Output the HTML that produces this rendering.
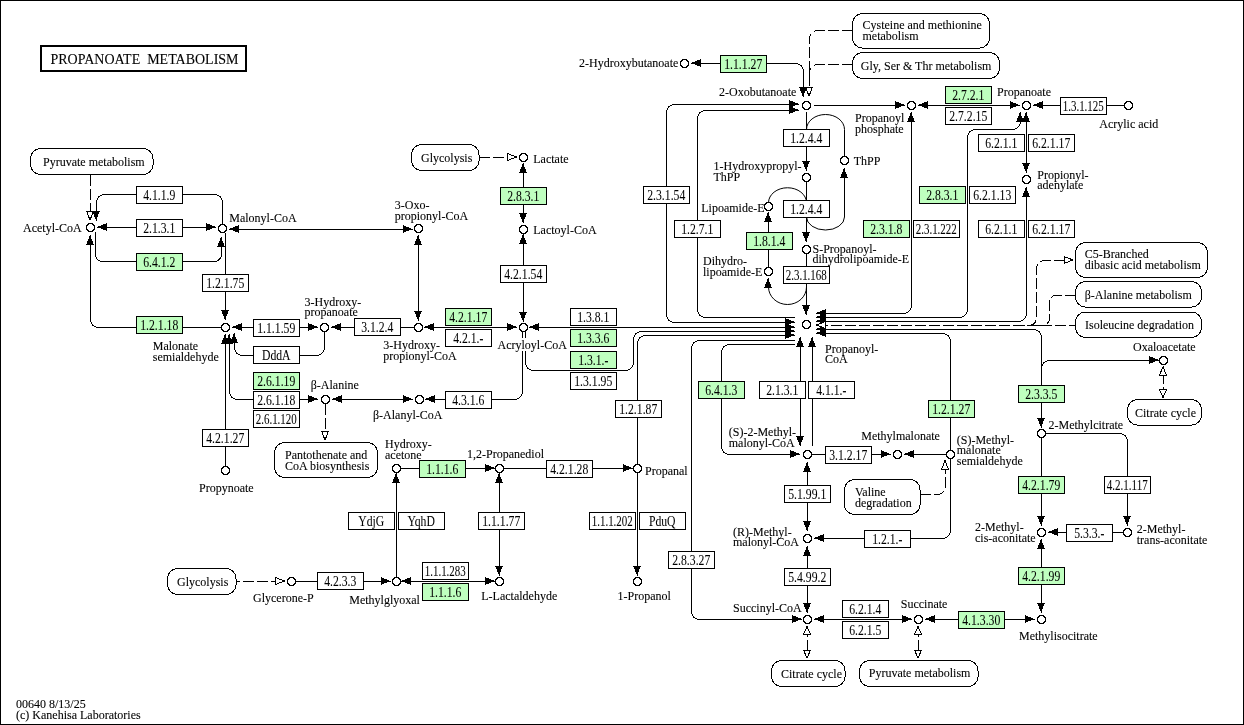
<!DOCTYPE html>
<html><head><meta charset="utf-8"><style>
html,body{margin:0;padding:0;background:#fff;width:1244px;height:725px;overflow:hidden}
svg{display:block;will-change:transform}
text{font-family:"Liberation Serif", serif;fill:#000;stroke:#000;stroke-width:0.1px}
text.b{stroke-width:0.05px}
</style></head><body>
<svg width="1244" height="725" viewBox="0 0 1244 725" shape-rendering="crispEdges">
<defs><g id="cc"><path d="M3 1h3v1h-3zM2 2h5v1h-5zM1 3h7v1h-7zM1 4h7v1h-7zM1 5h7v1h-7zM2 6h5v1h-5zM3 7h3v1h-3z" fill="#fff"/><path d="M2 0h5v1h-5zM1 1h2v1h-2zM6 1h2v1h-2zM0 2h2v1h-2zM7 2h2v1h-2zM0 3h1v1h-1zM8 3h1v1h-1zM0 4h1v1h-1zM8 4h1v1h-1zM0 5h1v1h-1zM8 5h1v1h-1zM0 6h2v1h-2zM7 6h2v1h-2zM1 7h2v1h-2zM6 7h2v1h-2zM2 8h5v1h-5z" fill="#000"/></g></defs>
<rect x="0.5" y="0.5" width="1243" height="724" fill="#fff" stroke="#000" stroke-width="1"/>
<rect x="41" y="46" width="205" height="25" fill="#fff" stroke="#000" stroke-width="2"/>
<text transform="matrix(0.9333 0 0 1 50.5 64)" font-size="15" xml:space="preserve" style="white-space:pre">PROPANOATE  METABOLISM</text>
<rect x="30.5" y="148.5" width="122.5" height="26" rx="10" ry="10" fill="#fff" stroke="#000" stroke-width="1"/>
<text transform="matrix(0.89 0 0 1 43 166)" font-size="13.5">Pyruvate metabolism</text>
<rect x="411.5" y="144.5" width="67.5" height="26" rx="10" ry="10" fill="#fff" stroke="#000" stroke-width="1"/>
<text transform="matrix(0.89 0 0 1 421 161.75)" font-size="13.5">Glycolysis</text>
<rect x="167.5" y="568.5" width="68.5" height="26" rx="10" ry="10" fill="#fff" stroke="#000" stroke-width="1"/>
<text transform="matrix(0.89 0 0 1 177 586.25)" font-size="13.5">Glycolysis</text>
<rect x="274.5" y="442.5" width="103" height="35" rx="10" ry="10" fill="#fff" stroke="#000" stroke-width="1"/>
<text transform="matrix(0.89 0 0 1 285 458.75)" font-size="13.5">Pantothenate and</text>
<text transform="matrix(0.89 0 0 1 285 469.5)" font-size="13.5">CoA biosynthesis</text>
<rect x="852.5" y="13.5" width="137" height="34.5" rx="10" ry="10" fill="#fff" stroke="#000" stroke-width="1"/>
<text transform="matrix(0.89 0 0 1 862.5 29.25)" font-size="13.5">Cysteine and methionine</text>
<text transform="matrix(0.89 0 0 1 862.5 40)" font-size="13.5">metabolism</text>
<rect x="852.5" y="52.5" width="147" height="26" rx="10" ry="10" fill="#fff" stroke="#000" stroke-width="1"/>
<text transform="matrix(0.89 0 0 1 860.75 69.5)" font-size="13.5">Gly, Ser &amp; Thr metabolism</text>
<rect x="1075.5" y="242.5" width="132" height="35" rx="10" ry="10" fill="#fff" stroke="#000" stroke-width="1"/>
<text transform="matrix(0.89 0 0 1 1084.75 258.25)" font-size="13.5">C5-Branched</text>
<text transform="matrix(0.89 0 0 1 1084.75 269)" font-size="13.5">dibasic acid metabolism</text>
<rect x="1075.5" y="281.5" width="126" height="25.5" rx="10" ry="10" fill="#fff" stroke="#000" stroke-width="1"/>
<text transform="matrix(0.89 0 0 1 1084.75 298.75)" font-size="13.5">β-Alanine metabolism</text>
<rect x="1075.5" y="312" width="126" height="25.5" rx="10" ry="10" fill="#fff" stroke="#000" stroke-width="1"/>
<text transform="matrix(0.89 0 0 1 1085 328.75)" font-size="13.5">Isoleucine degradation</text>
<rect x="1127.5" y="399.5" width="74" height="25.5" rx="10" ry="10" fill="#fff" stroke="#000" stroke-width="1"/>
<text transform="matrix(0.89 0 0 1 1135 417)" font-size="13.5">Citrate cycle</text>
<rect x="844.5" y="479.5" width="75.5" height="35" rx="10" ry="10" fill="#fff" stroke="#000" stroke-width="1"/>
<text transform="matrix(0.89 0 0 1 855 496)" font-size="13.5">Valine</text>
<text transform="matrix(0.89 0 0 1 855 507)" font-size="13.5">degradation</text>
<rect x="771.5" y="660.5" width="73.5" height="26" rx="10" ry="10" fill="#fff" stroke="#000" stroke-width="1"/>
<text transform="matrix(0.89 0 0 1 781 677.75)" font-size="13.5">Citrate cycle</text>
<rect x="859.5" y="660.5" width="118.5" height="26" rx="10" ry="10" fill="#fff" stroke="#000" stroke-width="1"/>
<text transform="matrix(0.89 0 0 1 868.75 677)" font-size="13.5">Pyruvate metabolism</text>
<path d="M90.5 174.5 L90.5 212" fill="none" stroke="#000" stroke-width="1" stroke-dasharray="11 3"/>
<polygon points="90,220 86.5,211 93.5,211" fill="#fff" stroke="#000" stroke-width="1"/>
<path d="M222.5 224.5 L222.5 202.5 A8 8 0 0 0 214.5 194.5 L104.5 194.5 A8 8 0 0 0 96.5 202.5 L96.5 212" fill="none" stroke="#000" stroke-width="1"/>
<polygon points="96,220.5 92,210.5 100,210.5" fill="#000"/>
<path d="M96.5 210.5L96.5 220.5" stroke="#000" stroke-width="1"/>
<path d="M100 227.5 L214 227.5" fill="none" stroke="#000" stroke-width="1"/>
<polygon points="97,227 107,223 107,231" fill="#000"/>
<path d="M107 227.5L97 227.5" stroke="#000" stroke-width="1"/>
<polygon points="216,227 206,231 206,223" fill="#000"/>
<path d="M206 227.5L216 227.5" stroke="#000" stroke-width="1"/>
<path d="M95.5 232 L95.5 254.5 A7 7 0 0 0 102.5 261.5 L214.5 261.5 A7 7 0 0 0 221.5 254.5 L221.5 242" fill="none" stroke="#000" stroke-width="1"/>
<polygon points="221,237 225,247 217,247" fill="#000"/>
<path d="M221.5 247L221.5 237" stroke="#000" stroke-width="1"/>
<path d="M221.5 327.5 L98.5 327.5 A8 8 0 0 1 90.5 319.5 L90.5 243" fill="none" stroke="#000" stroke-width="1"/>
<polygon points="90,235 94,245 86,245" fill="#000"/>
<path d="M90.5 245L90.5 235" stroke="#000" stroke-width="1"/>
<path d="M225.5 232.5 L225.5 312" fill="none" stroke="#000" stroke-width="1"/>
<polygon points="225,320 221,310 229,310" fill="#000"/>
<path d="M225.5 310L225.5 320" stroke="#000" stroke-width="1"/>
<path d="M238 327.5 L312 327.5" fill="none" stroke="#000" stroke-width="1"/>
<polygon points="232,327 242,323 242,331" fill="#000"/>
<path d="M242 327.5L232 327.5" stroke="#000" stroke-width="1"/>
<polygon points="318,327 308,331 308,323" fill="#000"/>
<path d="M308 327.5L318 327.5" stroke="#000" stroke-width="1"/>
<path d="M336 327.5 L414.5 327.5" fill="none" stroke="#000" stroke-width="1"/>
<polygon points="331,327 341,323 341,331" fill="#000"/>
<path d="M341 327.5L331 327.5" stroke="#000" stroke-width="1"/>
<path d="M430 327.5 L512 327.5" fill="none" stroke="#000" stroke-width="1"/>
<polygon points="424,327 434,323 434,331" fill="#000"/>
<path d="M434 327.5L424 327.5" stroke="#000" stroke-width="1"/>
<polygon points="517,327 507,331 507,323" fill="#000"/>
<path d="M507 327.5L517 327.5" stroke="#000" stroke-width="1"/>
<path d="M418.5 241 L418.5 314" fill="none" stroke="#000" stroke-width="1"/>
<polygon points="418,235 422,245 414,245" fill="#000"/>
<path d="M418.5 245L418.5 235" stroke="#000" stroke-width="1"/>
<polygon points="418,320.5 414,310.5 422,310.5" fill="#000"/>
<path d="M418.5 310.5L418.5 320.5" stroke="#000" stroke-width="1"/>
<path d="M235 229.5 L406 229.5" fill="none" stroke="#000" stroke-width="1"/>
<polygon points="229,229 239,225 239,233" fill="#000"/>
<path d="M239 229.5L229 229.5" stroke="#000" stroke-width="1"/>
<polygon points="412.5,229 402.5,233 402.5,225" fill="#000"/>
<path d="M402.5 229.5L412.5 229.5" stroke="#000" stroke-width="1"/>
<path d="M324.5 331.5 L324.5 347.5 A8 8 0 0 1 316.5 355.5 L242.5 355.5 A8 8 0 0 1 234.5 347.5 L234.5 340" fill="none" stroke="#000" stroke-width="1"/>
<path d="M312 399.5 L237.5 399.5 A8 8 0 0 1 229.5 391.5 L229.5 340" fill="none" stroke="#000" stroke-width="1"/>
<path d="M225.5 466.5 L225.5 340" fill="none" stroke="#000" stroke-width="1"/>
<polygon points="225,334 229,344 221,344" fill="#000"/>
<path d="M225.5 344L225.5 334" stroke="#000" stroke-width="1"/>
<polygon points="229,334 233,344 225,344" fill="#000"/>
<path d="M229.5 344L229.5 334" stroke="#000" stroke-width="1"/>
<polygon points="234,333 238,343 230,343" fill="#000"/>
<path d="M234.5 343L234.5 333" stroke="#000" stroke-width="1"/>
<path d="M338 399.5 L407 399.5" fill="none" stroke="#000" stroke-width="1"/>
<polygon points="332,399 342,395 342,403" fill="#000"/>
<path d="M342 399.5L332 399.5" stroke="#000" stroke-width="1"/>
<polygon points="412.5,399 402.5,403 402.5,395" fill="#000"/>
<path d="M402.5 399.5L412.5 399.5" stroke="#000" stroke-width="1"/>
<polygon points="318,399 308,403 308,395" fill="#000"/>
<path d="M308 399.5L318 399.5" stroke="#000" stroke-width="1"/>
<path d="M432 399.5 L514.5 399.5 A8 8 0 0 0 522.5 391.5 L522.5 331.5" fill="none" stroke="#000" stroke-width="1"/>
<polygon points="425,399 435,395 435,403" fill="#000"/>
<path d="M435 399.5L425 399.5" stroke="#000" stroke-width="1"/>
<path d="M325.5 403.5 L325.5 432" fill="none" stroke="#000" stroke-width="1" stroke-dasharray="11 3"/>
<polygon points="325,440 321.5,431 328.5,431" fill="#fff" stroke="#000" stroke-width="1"/>
<path d="M479 157.5 L507 157.5" fill="none" stroke="#000" stroke-width="1" stroke-dasharray="11 3"/>
<polygon points="516.5,157 507.5,160.5 507.5,153.5" fill="#fff" stroke="#000" stroke-width="1"/>
<path d="M523.5 170 L523.5 215" fill="none" stroke="#000" stroke-width="1"/>
<polygon points="523,163 527,173 519,173" fill="#000"/>
<path d="M523.5 173L523.5 163" stroke="#000" stroke-width="1"/>
<polygon points="523,223 519,213 527,213" fill="#000"/>
<path d="M523.5 213L523.5 223" stroke="#000" stroke-width="1"/>
<path d="M523.5 241 L523.5 314" fill="none" stroke="#000" stroke-width="1"/>
<polygon points="523,234 527,244 519,244" fill="#000"/>
<path d="M523.5 244L523.5 234" stroke="#000" stroke-width="1"/>
<polygon points="523,321.5 519,311.5 527,311.5" fill="#000"/>
<path d="M523.5 311.5L523.5 321.5" stroke="#000" stroke-width="1"/>
<path d="M535 327.5 L790 327.5" fill="none" stroke="#000" stroke-width="1"/>
<polygon points="529,327 539,323 539,331" fill="#000"/>
<path d="M539 327.5L529 327.5" stroke="#000" stroke-width="1"/>
<path d="M525.5 331.5 L525.5 362.5 A8 8 0 0 0 533.5 370.5 L625.5 370.5 A8 8 0 0 0 633.5 362.5 L633.5 339.5 A8 8 0 0 1 641.5 331.5 L790 331.5" fill="none" stroke="#000" stroke-width="1"/>
<path d="M637.5 464.5 L637.5 343.5 A8 8 0 0 1 645.5 335.5 L790 335.5" fill="none" stroke="#000" stroke-width="1"/>
<path d="M792 104.5 L674.5 104.5 A8 8 0 0 0 666.5 112.5 L666.5 314.5 A8 8 0 0 0 674.5 322.5 L790 322.5" fill="none" stroke="#000" stroke-width="1"/>
<polygon points="799,104 789,108 789,100" fill="#000"/>
<path d="M789 104.5L799 104.5" stroke="#000" stroke-width="1"/>
<path d="M792 110.5 L705.5 110.5 A8 8 0 0 0 697.5 118.5 L697.5 309.5 A8 8 0 0 0 705.5 317.5 L795 317.5" fill="none" stroke="#000" stroke-width="1"/>
<polygon points="799,110 789,114 789,106" fill="#000"/>
<path d="M789 110.5L799 110.5" stroke="#000" stroke-width="1"/>
<polygon points="795,322 785,326 785,318" fill="#000"/>
<path d="M785 322.5L795 322.5" stroke="#000" stroke-width="1"/>
<polygon points="795,327 785,331 785,323" fill="#000"/>
<path d="M785 327.5L795 327.5" stroke="#000" stroke-width="1"/>
<polygon points="795,331 785,335 785,327" fill="#000"/>
<path d="M785 331.5L795 331.5" stroke="#000" stroke-width="1"/>
<polygon points="795,335 785,339 785,331" fill="#000"/>
<path d="M785 335.5L795 335.5" stroke="#000" stroke-width="1"/>
<path d="M795 619.5 L699.5 619.5 A8 8 0 0 1 691.5 611.5 L691.5 348.5 A8 8 0 0 1 699.5 340.5 L795 340.5" fill="none" stroke="#000" stroke-width="1"/>
<polygon points="802,619 792,623 792,615" fill="#000"/>
<path d="M792 619.5L802 619.5" stroke="#000" stroke-width="1"/>
<path d="M795 454.5 L729.5 454.5 A8 8 0 0 1 721.5 446.5 L721.5 352.5 A8 8 0 0 1 729.5 344.5 L795 344.5" fill="none" stroke="#000" stroke-width="1"/>
<polygon points="800,454 790,458 790,450" fill="#000"/>
<path d="M790 454.5L800 454.5" stroke="#000" stroke-width="1"/>
<path d="M800.5 344 L800.5 440" fill="none" stroke="#000" stroke-width="1"/>
<polygon points="800,337 804,347 796,347" fill="#000"/>
<path d="M800.5 347L800.5 337" stroke="#000" stroke-width="1"/>
<polygon points="800,446 796,436 804,436" fill="#000"/>
<path d="M800.5 436L800.5 446" stroke="#000" stroke-width="1"/>
<path d="M812.5 446 L812.5 344" fill="none" stroke="#000" stroke-width="1"/>
<polygon points="812,337 816,347 808,347" fill="#000"/>
<path d="M812.5 347L812.5 337" stroke="#000" stroke-width="1"/>
<path d="M806.5 253.5 L806.5 307" fill="none" stroke="#000" stroke-width="1"/>
<polygon points="806,315 802,305 810,305" fill="#000"/>
<path d="M806.5 305L806.5 315" stroke="#000" stroke-width="1"/>
<path d="M806.5 287 A19 17.5 0 0 1 768.5 287" fill="none" stroke="#000" stroke-width="1" shape-rendering="geometricPrecision"/>
<polygon points="768,278 772,288 764,288" fill="#000"/>
<path d="M768.5 288L768.5 278" stroke="#000" stroke-width="1"/>
<path d="M768.5 267.5 L768.5 219" fill="none" stroke="#000" stroke-width="1"/>
<polygon points="768,212 772,222 764,222" fill="#000"/>
<path d="M768.5 222L768.5 212" stroke="#000" stroke-width="1"/>
<path d="M806.5 112 L806.5 164" fill="none" stroke="#000" stroke-width="1"/>
<polygon points="806,170.5 802,160.5 810,160.5" fill="#000"/>
<path d="M806.5 160.5L806.5 170.5" stroke="#000" stroke-width="1"/>
<path d="M806.5 129.5 A19 15 0 0 1 844.5 129.5 L844.5 156.75" fill="none" stroke="#000" stroke-width="1" shape-rendering="geometricPrecision"/>
<path d="M806.5 181.25 L806.5 235" fill="none" stroke="#000" stroke-width="1"/>
<polygon points="806,242 802,232 810,232" fill="#000"/>
<path d="M806.5 232L806.5 242" stroke="#000" stroke-width="1"/>
<path d="M768.5 202.75 A19 15 0 0 1 806.5 202.75" fill="none" stroke="#000" stroke-width="1" shape-rendering="geometricPrecision"/>
<path d="M806.5 217 A19 13 0 0 0 844.5 217 L844.5 174" fill="none" stroke="#000" stroke-width="1" shape-rendering="geometricPrecision"/>
<polygon points="844,168 848,178 840,178" fill="#000"/>
<path d="M844.5 178L844.5 168" stroke="#000" stroke-width="1"/>
<path d="M814 105.5 L898 105.5" fill="none" stroke="#000" stroke-width="1"/>
<polygon points="905,105 895,109 895,101" fill="#000"/>
<path d="M895 105.5L905 105.5" stroke="#000" stroke-width="1"/>
<path d="M924 105.5 L1013 105.5" fill="none" stroke="#000" stroke-width="1"/>
<polygon points="918,105 928,101 928,109" fill="#000"/>
<path d="M928 105.5L918 105.5" stroke="#000" stroke-width="1"/>
<polygon points="1019.5,105 1009.5,109 1009.5,101" fill="#000"/>
<path d="M1009.5 105.5L1019.5 105.5" stroke="#000" stroke-width="1"/>
<path d="M1124.75 105.5 L1040 105.5" fill="none" stroke="#000" stroke-width="1"/>
<polygon points="1033,105 1043,101 1043,109" fill="#000"/>
<path d="M1043 105.5L1033 105.5" stroke="#000" stroke-width="1"/>
<path d="M823 313.5 L903.5 313.5 A8 8 0 0 0 911.5 305.5 L911.5 118" fill="none" stroke="#000" stroke-width="1"/>
<polygon points="911,112 915,122 907,122" fill="#000"/>
<path d="M911.5 122L911.5 112" stroke="#000" stroke-width="1"/>
<path d="M823 317.5 L959.5 317.5 A8 8 0 0 0 967.5 309.5 L967.5 137.5 A8 8 0 0 1 975.5 129.5 L1012.5 129.5 A8 8 0 0 0 1020.5 121.5 L1020.5 118" fill="none" stroke="#000" stroke-width="1"/>
<polygon points="1020,112 1024,122 1016,122" fill="#000"/>
<path d="M1020.5 122L1020.5 112" stroke="#000" stroke-width="1"/>
<path d="M1026.5 118 L1026.5 166" fill="none" stroke="#000" stroke-width="1"/>
<polygon points="1026,112 1030,122 1022,122" fill="#000"/>
<path d="M1026.5 122L1026.5 112" stroke="#000" stroke-width="1"/>
<polygon points="1026,172.5 1022,162.5 1030,162.5" fill="#000"/>
<path d="M1026.5 162.5L1026.5 172.5" stroke="#000" stroke-width="1"/>
<path d="M1026.5 193 L1026.5 313.5 A8 8 0 0 1 1018.5 321.5 L823 321.5" fill="none" stroke="#000" stroke-width="1"/>
<polygon points="1026,187 1030,197 1022,197" fill="#000"/>
<path d="M1026.5 197L1026.5 187" stroke="#000" stroke-width="1"/>
<path d="M817 325.5 L1075.5 325.5" fill="none" stroke="#000" stroke-width="1" stroke-dasharray="11 3"/>
<path d="M1065 260.5 L1044.5 260.5 A8 8 0 0 0 1036.5 268.5 L1036.5 317.5 A8 8 0 0 1 1028.5 325.5 L1020 325.5" fill="none" stroke="#000" stroke-width="1" stroke-dasharray="11 3"/>
<polygon points="1073,260 1064,263.5 1064,256.5" fill="#fff" stroke="#000" stroke-width="1"/>
<path d="M1075.5 295 L1056.5 295 A7 7 0 0 0 1049.5 302 L1049.5 318.5 A7 7 0 0 1 1042.5 325.5 L1032 325.5" fill="none" stroke="#000" stroke-width="1" stroke-dasharray="11 3"/>
<path d="M823 329.5 L1033.5 329.5 A8 8 0 0 1 1041.5 337.5 L1041.5 421" fill="none" stroke="#000" stroke-width="1"/>
<polygon points="1041,427.5 1037,417.5 1045,417.5" fill="#000"/>
<path d="M1041.5 417.5L1041.5 427.5" stroke="#000" stroke-width="1"/>
<path d="M1041.5 376 L1041.5 368.5 A8 8 0 0 1 1049.5 360.5 L1152 360.5" fill="none" stroke="#000" stroke-width="1"/>
<polygon points="1158.75,360 1148.75,364 1148.75,356" fill="#000"/>
<path d="M1148.75 360.5L1158.75 360.5" stroke="#000" stroke-width="1"/>
<path d="M823 333.5 L942.5 333.5 A8 8 0 0 1 950.5 341.5 L950.5 450.5" fill="none" stroke="#000" stroke-width="1"/>
<path d="M950.5 458.5 L950.5 530.5 A8 8 0 0 1 942.5 538.5 L820 538.5" fill="none" stroke="#000" stroke-width="1"/>
<polygon points="814,538 824,534 824,542" fill="#000"/>
<path d="M824 538.5L814 538.5" stroke="#000" stroke-width="1"/>
<polygon points="816,313 826,309 826,317" fill="#000"/>
<path d="M826 313.5L816 313.5" stroke="#000" stroke-width="1"/>
<polygon points="816,317 826,313 826,321" fill="#000"/>
<path d="M826 317.5L816 317.5" stroke="#000" stroke-width="1"/>
<polygon points="816,321 826,317 826,325" fill="#000"/>
<path d="M826 321.5L816 321.5" stroke="#000" stroke-width="1"/>
<polygon points="816,329 826,325 826,333" fill="#000"/>
<path d="M826 329.5L816 329.5" stroke="#000" stroke-width="1"/>
<polygon points="816,333 826,329 826,337" fill="#000"/>
<path d="M826 333.5L816 333.5" stroke="#000" stroke-width="1"/>
<polygon points="816.5,325 825.5,321.5 825.5,328.5" fill="#fff" stroke="#000" stroke-width="1"/>
<path d="M1163.5 398 L1163.5 366" fill="none" stroke="#000" stroke-width="1" stroke-dasharray="11 3"/>
<polygon points="1163,367 1166.5,375 1159.5,375" fill="#fff" stroke="#000" stroke-width="1"/>
<polygon points="1163,397.5 1159.5,389.5 1166.5,389.5" fill="#fff" stroke="#000" stroke-width="1"/>
<path d="M811.5 454.5 L884 454.5" fill="none" stroke="#000" stroke-width="1"/>
<polygon points="890.5,454 880.5,458 880.5,450" fill="#000"/>
<path d="M880.5 454.5L890.5 454.5" stroke="#000" stroke-width="1"/>
<path d="M946.5 454.5 L910 454.5" fill="none" stroke="#000" stroke-width="1"/>
<polygon points="904,454 914,450 914,458" fill="#000"/>
<path d="M914 454.5L904 454.5" stroke="#000" stroke-width="1"/>
<path d="M920 494.5 L937.5 494.5 A8 8 0 0 0 945.5 486.5 L945.5 469" fill="none" stroke="#000" stroke-width="1" stroke-dasharray="11 3"/>
<polygon points="945,460.5 948.5,469.5 941.5,469.5" fill="#fff" stroke="#000" stroke-width="1"/>
<path d="M807.5 468 L807.5 525" fill="none" stroke="#000" stroke-width="1"/>
<polygon points="807,462 811,472 803,472" fill="#000"/>
<path d="M807.5 472L807.5 462" stroke="#000" stroke-width="1"/>
<polygon points="807,531 803,521 811,521" fill="#000"/>
<path d="M807.5 521L807.5 531" stroke="#000" stroke-width="1"/>
<path d="M807.5 552 L807.5 606" fill="none" stroke="#000" stroke-width="1"/>
<polygon points="807,546 811,556 803,556" fill="#000"/>
<path d="M807.5 556L807.5 546" stroke="#000" stroke-width="1"/>
<polygon points="807,613 803,603 811,603" fill="#000"/>
<path d="M807.5 603L807.5 613" stroke="#000" stroke-width="1"/>
<path d="M820 619.5 L905 619.5" fill="none" stroke="#000" stroke-width="1"/>
<polygon points="814,619 824,615 824,623" fill="#000"/>
<path d="M824 619.5L814 619.5" stroke="#000" stroke-width="1"/>
<polygon points="912,619 902,623 902,615" fill="#000"/>
<path d="M902 619.5L912 619.5" stroke="#000" stroke-width="1"/>
<path d="M931 619.5 L1029 619.5" fill="none" stroke="#000" stroke-width="1"/>
<polygon points="925,619 935,615 935,623" fill="#000"/>
<path d="M935 619.5L925 619.5" stroke="#000" stroke-width="1"/>
<polygon points="1034.5,619 1024.5,623 1024.5,615" fill="#000"/>
<path d="M1024.5 619.5L1034.5 619.5" stroke="#000" stroke-width="1"/>
<path d="M1041.5 545 L1041.5 606" fill="none" stroke="#000" stroke-width="1"/>
<polygon points="1041,539 1045,549 1037,549" fill="#000"/>
<path d="M1041.5 549L1041.5 539" stroke="#000" stroke-width="1"/>
<polygon points="1041,612.5 1037,602.5 1045,602.5" fill="#000"/>
<path d="M1041.5 602.5L1041.5 612.5" stroke="#000" stroke-width="1"/>
<path d="M1041.5 437.5 L1041.5 519" fill="none" stroke="#000" stroke-width="1"/>
<polygon points="1041,525.5 1037,515.5 1045,515.5" fill="#000"/>
<path d="M1041.5 515.5L1041.5 525.5" stroke="#000" stroke-width="1"/>
<path d="M1045.25 433.5 L1119.5 433.5 A8 8 0 0 1 1127.5 441.5 L1127.5 519" fill="none" stroke="#000" stroke-width="1"/>
<polygon points="1127,525.5 1123,515.5 1131,515.5" fill="#000"/>
<path d="M1127.5 515.5L1127.5 525.5" stroke="#000" stroke-width="1"/>
<path d="M1123.75 532.5 L1054 532.5" fill="none" stroke="#000" stroke-width="1"/>
<polygon points="1048,532 1058,528 1058,536" fill="#000"/>
<path d="M1058 532.5L1048 532.5" stroke="#000" stroke-width="1"/>
<path d="M807.5 626 L807.5 658" fill="none" stroke="#000" stroke-width="1" stroke-dasharray="11 3"/>
<polygon points="807,626.5 810.5,634.5 803.5,634.5" fill="#fff" stroke="#000" stroke-width="1"/>
<polygon points="807,658 803.5,650 810.5,650" fill="#fff" stroke="#000" stroke-width="1"/>
<path d="M918.5 626 L918.5 658" fill="none" stroke="#000" stroke-width="1" stroke-dasharray="11 3"/>
<polygon points="918,626.5 921.5,634.5 914.5,634.5" fill="#fff" stroke="#000" stroke-width="1"/>
<polygon points="918,658 914.5,650 921.5,650" fill="#fff" stroke="#000" stroke-width="1"/>
<path d="M697 63.5 L795.5 63.5 A8 8 0 0 1 803.5 71.5 L803.5 90" fill="none" stroke="#000" stroke-width="1"/>
<polygon points="803,97 799,87 807,87" fill="#000"/>
<path d="M803.5 87L803.5 97" stroke="#000" stroke-width="1"/>
<polygon points="691,63 701,59 701,67" fill="#000"/>
<path d="M701 63.5L691 63.5" stroke="#000" stroke-width="1"/>
<path d="M852.5 30.5 L817.5 30.5 A8 8 0 0 0 809.5 38.5 L809.5 88" fill="none" stroke="#000" stroke-width="1" stroke-dasharray="11 3"/>
<polygon points="809,96 805.5,87 812.5,87" fill="#fff" stroke="#000" stroke-width="1"/>
<path d="M852.5 64.5 L817.5 64.5 A8 8 0 0 0 809.5 72.5 L809.5 80" fill="none" stroke="#000" stroke-width="1" stroke-dasharray="11 3"/>
<path d="M400.25 468.5 L489 468.5" fill="none" stroke="#000" stroke-width="1"/>
<polygon points="495,468 485,472 485,464" fill="#000"/>
<path d="M485 468.5L495 468.5" stroke="#000" stroke-width="1"/>
<path d="M396.5 577.75 L396.5 480" fill="none" stroke="#000" stroke-width="1"/>
<polygon points="396,473 400,483 392,483" fill="#000"/>
<path d="M396.5 483L396.5 473" stroke="#000" stroke-width="1"/>
<path d="M499.5 480 L499.5 569" fill="none" stroke="#000" stroke-width="1"/>
<polygon points="499,473 503,483 495,483" fill="#000"/>
<path d="M499.5 483L499.5 473" stroke="#000" stroke-width="1"/>
<polygon points="499,575.5 495,565.5 503,565.5" fill="#000"/>
<path d="M499.5 565.5L499.5 575.5" stroke="#000" stroke-width="1"/>
<path d="M503.25 468.5 L626 468.5" fill="none" stroke="#000" stroke-width="1"/>
<polygon points="632.5,468 622.5,472 622.5,464" fill="#000"/>
<path d="M622.5 468.5L632.5 468.5" stroke="#000" stroke-width="1"/>
<path d="M637.5 472.25 L637.5 569" fill="none" stroke="#000" stroke-width="1"/>
<polygon points="637,575.5 633,565.5 641,565.5" fill="#000"/>
<path d="M637.5 565.5L637.5 575.5" stroke="#000" stroke-width="1"/>
<path d="M282 581.5 L236 581.5" fill="none" stroke="#000" stroke-width="1" stroke-dasharray="11 3"/>
<polygon points="284.5,581 275.5,584.5 275.5,577.5" fill="#fff" stroke="#000" stroke-width="1"/>
<path d="M295.25 581.5 L384 581.5" fill="none" stroke="#000" stroke-width="1"/>
<polygon points="390.5,581 380.5,585 380.5,577" fill="#000"/>
<path d="M380.5 581.5L390.5 581.5" stroke="#000" stroke-width="1"/>
<path d="M407 581.5 L489 581.5" fill="none" stroke="#000" stroke-width="1"/>
<polygon points="401,581 411,577 411,585" fill="#000"/>
<path d="M411 581.5L401 581.5" stroke="#000" stroke-width="1"/>
<polygon points="495,581 485,585 485,577" fill="#000"/>
<path d="M485 581.5L495 581.5" stroke="#000" stroke-width="1"/>
<rect x="136.5" y="186.5" width="46" height="17" fill="#fff" stroke="#000" stroke-width="1"/>
<text class="b" transform="matrix(0.86 0 0 1 159.25 200)" text-anchor="middle" font-size="13.6">4.1.1.9</text>
<rect x="136.5" y="219.5" width="46" height="17" fill="#fff" stroke="#000" stroke-width="1"/>
<text class="b" transform="matrix(0.86 0 0 1 159.25 233)" text-anchor="middle" font-size="13.6">2.1.3.1</text>
<rect x="136.5" y="253.5" width="46" height="17" fill="#bfffbf" stroke="#000" stroke-width="1"/>
<text class="b" transform="matrix(0.86 0 0 1 159.25 267)" text-anchor="middle" font-size="13.6">6.4.1.2</text>
<rect x="202.5" y="274.5" width="46" height="17" fill="#fff" stroke="#000" stroke-width="1"/>
<text class="b" transform="matrix(0.86 0 0 1 225.25 288)" text-anchor="middle" font-size="13.6">1.2.1.75</text>
<rect x="136.5" y="316.5" width="46" height="17" fill="#bfffbf" stroke="#000" stroke-width="1"/>
<text class="b" transform="matrix(0.86 0 0 1 159.25 330)" text-anchor="middle" font-size="13.6">1.2.1.18</text>
<rect x="253.5" y="319.5" width="46" height="17" fill="#fff" stroke="#000" stroke-width="1"/>
<text class="b" transform="matrix(0.86 0 0 1 276.25 333)" text-anchor="middle" font-size="13.6">1.1.1.59</text>
<rect x="253.5" y="346.5" width="46" height="17" fill="#fff" stroke="#000" stroke-width="1"/>
<text class="b" transform="matrix(0.86 0 0 1 276.25 360)" text-anchor="middle" font-size="13.6">DddA</text>
<rect x="253.5" y="372.5" width="46" height="17" fill="#bfffbf" stroke="#000" stroke-width="1"/>
<text class="b" transform="matrix(0.86 0 0 1 276.25 386)" text-anchor="middle" font-size="13.6">2.6.1.19</text>
<rect x="253.5" y="391.5" width="46" height="17" fill="#fff" stroke="#000" stroke-width="1"/>
<text class="b" transform="matrix(0.86 0 0 1 276.25 405)" text-anchor="middle" font-size="13.6">2.6.1.18</text>
<rect x="253.5" y="410.5" width="46" height="17" fill="#fff" stroke="#000" stroke-width="1"/>
<text class="b" transform="matrix(0.86 0 0 1 276.25 424)" text-anchor="middle" font-size="13.6" textLength="47.66" lengthAdjust="spacingAndGlyphs">2.6.1.120</text>
<rect x="202.5" y="429.5" width="46" height="17" fill="#fff" stroke="#000" stroke-width="1"/>
<text class="b" transform="matrix(0.86 0 0 1 225.25 443)" text-anchor="middle" font-size="13.6">4.2.1.27</text>
<rect x="354.5" y="318.5" width="46" height="17" fill="#fff" stroke="#000" stroke-width="1"/>
<text class="b" transform="matrix(0.86 0 0 1 377.25 332)" text-anchor="middle" font-size="13.6">3.1.2.4</text>
<rect x="445.5" y="308.5" width="46" height="17" fill="#bfffbf" stroke="#000" stroke-width="1"/>
<text class="b" transform="matrix(0.86 0 0 1 468.25 322)" text-anchor="middle" font-size="13.6">4.2.1.17</text>
<rect x="445.5" y="329.5" width="46" height="17" fill="#fff" stroke="#000" stroke-width="1"/>
<text class="b" transform="matrix(0.86 0 0 1 468.25 343)" text-anchor="middle" font-size="13.6">4.2.1.-</text>
<rect x="445.5" y="391.5" width="46" height="17" fill="#fff" stroke="#000" stroke-width="1"/>
<text class="b" transform="matrix(0.86 0 0 1 468.25 405)" text-anchor="middle" font-size="13.6">4.3.1.6</text>
<rect x="500.5" y="187.5" width="46" height="17" fill="#bfffbf" stroke="#000" stroke-width="1"/>
<text class="b" transform="matrix(0.86 0 0 1 523.25 201)" text-anchor="middle" font-size="13.6">2.8.3.1</text>
<rect x="500.5" y="265.5" width="46" height="17" fill="#fff" stroke="#000" stroke-width="1"/>
<text class="b" transform="matrix(0.86 0 0 1 523.25 279)" text-anchor="middle" font-size="13.6">4.2.1.54</text>
<rect x="570.5" y="308.5" width="46" height="17" fill="#fff" stroke="#000" stroke-width="1"/>
<text class="b" transform="matrix(0.86 0 0 1 593.25 322)" text-anchor="middle" font-size="13.6">1.3.8.1</text>
<rect x="570.5" y="329.5" width="46" height="17" fill="#bfffbf" stroke="#000" stroke-width="1"/>
<text class="b" transform="matrix(0.86 0 0 1 593.25 343)" text-anchor="middle" font-size="13.6">1.3.3.6</text>
<rect x="570.5" y="351.5" width="46" height="17" fill="#bfffbf" stroke="#000" stroke-width="1"/>
<text class="b" transform="matrix(0.86 0 0 1 593.25 365)" text-anchor="middle" font-size="13.6">1.3.1.-</text>
<rect x="570.5" y="372.5" width="46" height="17" fill="#fff" stroke="#000" stroke-width="1"/>
<text class="b" transform="matrix(0.86 0 0 1 593.25 386)" text-anchor="middle" font-size="13.6">1.3.1.95</text>
<rect x="615.5" y="400.5" width="46" height="17" fill="#fff" stroke="#000" stroke-width="1"/>
<text class="b" transform="matrix(0.86 0 0 1 638.25 414)" text-anchor="middle" font-size="13.6">1.2.1.87</text>
<rect x="419.5" y="460.5" width="46" height="17" fill="#bfffbf" stroke="#000" stroke-width="1"/>
<text class="b" transform="matrix(0.86 0 0 1 442.25 474)" text-anchor="middle" font-size="13.6">1.1.1.6</text>
<rect x="348.5" y="512.5" width="46" height="17" fill="#fff" stroke="#000" stroke-width="1"/>
<text class="b" transform="matrix(0.86 0 0 1 371.25 526)" text-anchor="middle" font-size="13.6">YdjG</text>
<rect x="398.5" y="512.5" width="46" height="17" fill="#fff" stroke="#000" stroke-width="1"/>
<text class="b" transform="matrix(0.86 0 0 1 421.25 526)" text-anchor="middle" font-size="13.6">YqhD</text>
<rect x="478.5" y="512.5" width="46" height="17" fill="#fff" stroke="#000" stroke-width="1"/>
<text class="b" transform="matrix(0.86 0 0 1 501.25 526)" text-anchor="middle" font-size="13.6">1.1.1.77</text>
<rect x="317.5" y="572.5" width="46" height="17" fill="#fff" stroke="#000" stroke-width="1"/>
<text class="b" transform="matrix(0.86 0 0 1 340.25 586)" text-anchor="middle" font-size="13.6">4.2.3.3</text>
<rect x="422.5" y="562.5" width="46" height="17" fill="#fff" stroke="#000" stroke-width="1"/>
<text class="b" transform="matrix(0.86 0 0 1 445.25 576)" text-anchor="middle" font-size="13.6" textLength="47.66" lengthAdjust="spacingAndGlyphs">1.1.1.283</text>
<rect x="422.5" y="583.5" width="46" height="17" fill="#bfffbf" stroke="#000" stroke-width="1"/>
<text class="b" transform="matrix(0.86 0 0 1 445.25 597)" text-anchor="middle" font-size="13.6">1.1.1.6</text>
<rect x="546.5" y="460.5" width="46" height="17" fill="#fff" stroke="#000" stroke-width="1"/>
<text class="b" transform="matrix(0.86 0 0 1 569.25 474)" text-anchor="middle" font-size="13.6">4.2.1.28</text>
<rect x="589.5" y="512.5" width="46" height="17" fill="#fff" stroke="#000" stroke-width="1"/>
<text class="b" transform="matrix(0.86 0 0 1 612.25 526)" text-anchor="middle" font-size="13.6" textLength="47.66" lengthAdjust="spacingAndGlyphs">1.1.1.202</text>
<rect x="639.5" y="512.5" width="46" height="17" fill="#fff" stroke="#000" stroke-width="1"/>
<text class="b" transform="matrix(0.86 0 0 1 662.25 526)" text-anchor="middle" font-size="13.6">PduQ</text>
<rect x="668.5" y="551.5" width="46" height="17" fill="#fff" stroke="#000" stroke-width="1"/>
<text class="b" transform="matrix(0.86 0 0 1 691.25 565)" text-anchor="middle" font-size="13.6">2.8.3.27</text>
<rect x="720.5" y="55.5" width="46" height="17" fill="#bfffbf" stroke="#000" stroke-width="1"/>
<text class="b" transform="matrix(0.86 0 0 1 743.25 69)" text-anchor="middle" font-size="13.6">1.1.1.27</text>
<rect x="643.5" y="186.5" width="46" height="17" fill="#fff" stroke="#000" stroke-width="1"/>
<text class="b" transform="matrix(0.86 0 0 1 666.25 200)" text-anchor="middle" font-size="13.6">2.3.1.54</text>
<rect x="674.5" y="220.5" width="46" height="17" fill="#fff" stroke="#000" stroke-width="1"/>
<text class="b" transform="matrix(0.86 0 0 1 697.25 234)" text-anchor="middle" font-size="13.6">1.2.7.1</text>
<rect x="783.5" y="129.5" width="46" height="17" fill="#fff" stroke="#000" stroke-width="1"/>
<text class="b" transform="matrix(0.86 0 0 1 806.25 143)" text-anchor="middle" font-size="13.6">1.2.4.4</text>
<rect x="783.5" y="200.5" width="46" height="17" fill="#fff" stroke="#000" stroke-width="1"/>
<text class="b" transform="matrix(0.86 0 0 1 806.25 214)" text-anchor="middle" font-size="13.6">1.2.4.4</text>
<rect x="746.5" y="232.5" width="46" height="17" fill="#bfffbf" stroke="#000" stroke-width="1"/>
<text class="b" transform="matrix(0.86 0 0 1 769.25 246)" text-anchor="middle" font-size="13.6">1.8.1.4</text>
<rect x="783.5" y="266.5" width="46" height="17" fill="#fff" stroke="#000" stroke-width="1"/>
<text class="b" transform="matrix(0.86 0 0 1 806.25 280)" text-anchor="middle" font-size="13.6" textLength="47.66" lengthAdjust="spacingAndGlyphs">2.3.1.168</text>
<rect x="863.5" y="220.5" width="46" height="17" fill="#bfffbf" stroke="#000" stroke-width="1"/>
<text class="b" transform="matrix(0.86 0 0 1 886.25 234)" text-anchor="middle" font-size="13.6">2.3.1.8</text>
<rect x="913.5" y="220.5" width="46" height="17" fill="#fff" stroke="#000" stroke-width="1"/>
<text class="b" transform="matrix(0.86 0 0 1 936.25 234)" text-anchor="middle" font-size="13.6" textLength="47.66" lengthAdjust="spacingAndGlyphs">2.3.1.222</text>
<rect x="919.5" y="186.5" width="46" height="17" fill="#bfffbf" stroke="#000" stroke-width="1"/>
<text class="b" transform="matrix(0.86 0 0 1 942.25 200)" text-anchor="middle" font-size="13.6">2.8.3.1</text>
<rect x="969.5" y="186.5" width="46" height="17" fill="#fff" stroke="#000" stroke-width="1"/>
<text class="b" transform="matrix(0.86 0 0 1 992.25 200)" text-anchor="middle" font-size="13.6">6.2.1.13</text>
<rect x="945.5" y="86.5" width="46" height="17" fill="#bfffbf" stroke="#000" stroke-width="1"/>
<text class="b" transform="matrix(0.86 0 0 1 968.25 100)" text-anchor="middle" font-size="13.6">2.7.2.1</text>
<rect x="945.5" y="107.5" width="46" height="17" fill="#fff" stroke="#000" stroke-width="1"/>
<text class="b" transform="matrix(0.86 0 0 1 968.25 121)" text-anchor="middle" font-size="13.6">2.7.2.15</text>
<rect x="1060.5" y="97.5" width="46" height="17" fill="#fff" stroke="#000" stroke-width="1"/>
<text class="b" transform="matrix(0.86 0 0 1 1083.25 111)" text-anchor="middle" font-size="13.6" textLength="47.66" lengthAdjust="spacingAndGlyphs">1.3.1.125</text>
<rect x="978.5" y="134.5" width="46" height="17" fill="#fff" stroke="#000" stroke-width="1"/>
<text class="b" transform="matrix(0.86 0 0 1 1001.25 148)" text-anchor="middle" font-size="13.6">6.2.1.1</text>
<rect x="1028.5" y="134.5" width="46" height="17" fill="#fff" stroke="#000" stroke-width="1"/>
<text class="b" transform="matrix(0.86 0 0 1 1051.25 148)" text-anchor="middle" font-size="13.6">6.2.1.17</text>
<rect x="978.5" y="220.5" width="46" height="17" fill="#fff" stroke="#000" stroke-width="1"/>
<text class="b" transform="matrix(0.86 0 0 1 1001.25 234)" text-anchor="middle" font-size="13.6">6.2.1.1</text>
<rect x="1028.5" y="220.5" width="46" height="17" fill="#fff" stroke="#000" stroke-width="1"/>
<text class="b" transform="matrix(0.86 0 0 1 1051.25 234)" text-anchor="middle" font-size="13.6">6.2.1.17</text>
<rect x="698.5" y="381.5" width="46" height="17" fill="#bfffbf" stroke="#000" stroke-width="1"/>
<text class="b" transform="matrix(0.86 0 0 1 721.25 395)" text-anchor="middle" font-size="13.6">6.4.1.3</text>
<rect x="759.5" y="381.5" width="46" height="17" fill="#fff" stroke="#000" stroke-width="1"/>
<text class="b" transform="matrix(0.86 0 0 1 782.25 395)" text-anchor="middle" font-size="13.6">2.1.3.1</text>
<rect x="808.5" y="381.5" width="46" height="17" fill="#fff" stroke="#000" stroke-width="1"/>
<text class="b" transform="matrix(0.86 0 0 1 831.25 395)" text-anchor="middle" font-size="13.6">4.1.1.-</text>
<rect x="928.5" y="400.5" width="46" height="17" fill="#bfffbf" stroke="#000" stroke-width="1"/>
<text class="b" transform="matrix(0.86 0 0 1 951.25 414)" text-anchor="middle" font-size="13.6">1.2.1.27</text>
<rect x="1018.5" y="385.5" width="46" height="17" fill="#bfffbf" stroke="#000" stroke-width="1"/>
<text class="b" transform="matrix(0.86 0 0 1 1041.25 399)" text-anchor="middle" font-size="13.6">2.3.3.5</text>
<rect x="825.5" y="446.5" width="46" height="17" fill="#fff" stroke="#000" stroke-width="1"/>
<text class="b" transform="matrix(0.86 0 0 1 848.25 460)" text-anchor="middle" font-size="13.6">3.1.2.17</text>
<rect x="784.5" y="485.5" width="46" height="17" fill="#fff" stroke="#000" stroke-width="1"/>
<text class="b" transform="matrix(0.86 0 0 1 807.25 499)" text-anchor="middle" font-size="13.6">5.1.99.1</text>
<rect x="864.5" y="530.5" width="46" height="17" fill="#fff" stroke="#000" stroke-width="1"/>
<text class="b" transform="matrix(0.86 0 0 1 887.25 544)" text-anchor="middle" font-size="13.6">1.2.1.-</text>
<rect x="784.5" y="568.5" width="46" height="17" fill="#fff" stroke="#000" stroke-width="1"/>
<text class="b" transform="matrix(0.86 0 0 1 807.25 582)" text-anchor="middle" font-size="13.6">5.4.99.2</text>
<rect x="842.5" y="600.5" width="46" height="17" fill="#fff" stroke="#000" stroke-width="1"/>
<text class="b" transform="matrix(0.86 0 0 1 865.25 614)" text-anchor="middle" font-size="13.6">6.2.1.4</text>
<rect x="842.5" y="621.5" width="46" height="17" fill="#fff" stroke="#000" stroke-width="1"/>
<text class="b" transform="matrix(0.86 0 0 1 865.25 635)" text-anchor="middle" font-size="13.6">6.2.1.5</text>
<rect x="958.5" y="611.5" width="46" height="17" fill="#bfffbf" stroke="#000" stroke-width="1"/>
<text class="b" transform="matrix(0.86 0 0 1 981.25 625)" text-anchor="middle" font-size="13.6">4.1.3.30</text>
<rect x="1018.5" y="476.5" width="46" height="17" fill="#bfffbf" stroke="#000" stroke-width="1"/>
<text class="b" transform="matrix(0.86 0 0 1 1041.25 490)" text-anchor="middle" font-size="13.6">4.2.1.79</text>
<rect x="1104.5" y="476.5" width="46" height="17" fill="#fff" stroke="#000" stroke-width="1"/>
<text class="b" transform="matrix(0.86 0 0 1 1127.25 490)" text-anchor="middle" font-size="13.6" textLength="47.66" lengthAdjust="spacingAndGlyphs">4.2.1.117</text>
<rect x="1066.5" y="524.5" width="46" height="17" fill="#fff" stroke="#000" stroke-width="1"/>
<text class="b" transform="matrix(0.86 0 0 1 1089.25 538)" text-anchor="middle" font-size="13.6">5.3.3.-</text>
<rect x="1018.5" y="567.5" width="46" height="17" fill="#bfffbf" stroke="#000" stroke-width="1"/>
<text class="b" transform="matrix(0.86 0 0 1 1041.25 581)" text-anchor="middle" font-size="13.6">4.2.1.99</text>
<use href="#cc" x="86" y="223"/>
<use href="#cc" x="218" y="224"/>
<use href="#cc" x="221" y="323"/>
<use href="#cc" x="320" y="323"/>
<use href="#cc" x="414" y="323"/>
<use href="#cc" x="414" y="224"/>
<use href="#cc" x="519" y="323"/>
<use href="#cc" x="519" y="225"/>
<use href="#cc" x="519" y="153"/>
<use href="#cc" x="321" y="395"/>
<use href="#cc" x="415" y="395"/>
<use href="#cc" x="221" y="466"/>
<use href="#cc" x="287" y="577"/>
<use href="#cc" x="392" y="577"/>
<use href="#cc" x="392" y="464"/>
<use href="#cc" x="495" y="464"/>
<use href="#cc" x="495" y="577"/>
<use href="#cc" x="633" y="464"/>
<use href="#cc" x="633" y="577"/>
<use href="#cc" x="680" y="59"/>
<use href="#cc" x="802" y="101"/>
<use href="#cc" x="907" y="101"/>
<use href="#cc" x="1022" y="101"/>
<use href="#cc" x="1124" y="101"/>
<use href="#cc" x="840" y="156"/>
<use href="#cc" x="802" y="173"/>
<use href="#cc" x="764" y="202"/>
<use href="#cc" x="802" y="245"/>
<use href="#cc" x="764" y="267"/>
<use href="#cc" x="1022" y="175"/>
<use href="#cc" x="802" y="320"/>
<use href="#cc" x="803" y="450"/>
<use href="#cc" x="893" y="450"/>
<use href="#cc" x="946" y="450"/>
<use href="#cc" x="803" y="534"/>
<use href="#cc" x="803" y="615"/>
<use href="#cc" x="914" y="615"/>
<use href="#cc" x="1037" y="615"/>
<use href="#cc" x="1037" y="429"/>
<use href="#cc" x="1159" y="356"/>
<use href="#cc" x="1037" y="528"/>
<use href="#cc" x="1123" y="528"/>
<rect x="497" y="337.5" width="68" height="13.5" fill="#fff"/>
<text transform="matrix(0.89 0 0 1 23 231.75)" font-size="13.5">Acetyl-CoA</text>
<text transform="matrix(0.89 0 0 1 229.25 222)" font-size="13.5">Malonyl-CoA</text>
<text transform="matrix(0.89 0 0 1 394.75 209)" font-size="13.5">3-Oxo-</text>
<text transform="matrix(0.89 0 0 1 394.75 219.5)" font-size="13.5">propionyl-CoA</text>
<text transform="matrix(0.89 0 0 1 152.75 350)" font-size="13.5">Malonate</text>
<text transform="matrix(0.89 0 0 1 152.75 360.5)" font-size="13.5">semialdehyde</text>
<text transform="matrix(0.89 0 0 1 304.5 305.75)" font-size="13.5">3-Hydroxy-</text>
<text transform="matrix(0.89 0 0 1 304.5 316.25)" font-size="13.5">propanoate</text>
<text transform="matrix(0.89 0 0 1 383.25 349.25)" font-size="13.5">3-Hydroxy-</text>
<text transform="matrix(0.89 0 0 1 383.25 359.75)" font-size="13.5">propionyl-CoA</text>
<text transform="matrix(0.89 0 0 1 497.5 348.5)" font-size="13.5">Acryloyl-CoA</text>
<text transform="matrix(0.89 0 0 1 533.25 233.75)" font-size="13.5">Lactoyl-CoA</text>
<text transform="matrix(0.89 0 0 1 533.25 162.5)" font-size="13.5">Lactate</text>
<text transform="matrix(0.89 0 0 1 310.75 389.25)" font-size="13.5">β-Alanine</text>
<text transform="matrix(0.89 0 0 1 373 419.25)" font-size="13.5">β-Alanyl-CoA</text>
<text transform="matrix(0.89 0 0 1 199 492)" font-size="13.5">Propynoate</text>
<text transform="matrix(0.89 0 0 1 385 448)" font-size="13.5">Hydroxy-</text>
<text transform="matrix(0.89 0 0 1 385 458.5)" font-size="13.5">acetone</text>
<text transform="matrix(0.89 0 0 1 467 457.5)" font-size="13.5">1,2-Propanediol</text>
<text transform="matrix(0.89 0 0 1 253 601.5)" font-size="13.5">Glycerone-P</text>
<text transform="matrix(0.89 0 0 1 349.25 603.75)" font-size="13.5">Methylglyoxal</text>
<text transform="matrix(0.89 0 0 1 481.25 600)" font-size="13.5">L-Lactaldehyde</text>
<text transform="matrix(0.89 0 0 1 645 474.5)" font-size="13.5">Propanal</text>
<text transform="matrix(0.89 0 0 1 617.5 599.5)" font-size="13.5">1-Propanol</text>
<text transform="matrix(0.89 0 0 1 579 67)" font-size="13.5">2-Hydroxybutanoate</text>
<text transform="matrix(0.89 0 0 1 719 95.75)" font-size="13.5">2-Oxobutanoate</text>
<text transform="matrix(0.89 0 0 1 855 122)" font-size="13.5">Propanoyl</text>
<text transform="matrix(0.89 0 0 1 855 132.5)" font-size="13.5">phosphate</text>
<text transform="matrix(0.89 0 0 1 997 95.75)" font-size="13.5">Propanoate</text>
<text transform="matrix(0.89 0 0 1 1099.25 127.5)" font-size="13.5">Acrylic acid</text>
<text transform="matrix(0.89 0 0 1 853.75 165)" font-size="13.5">ThPP</text>
<text transform="matrix(0.89 0 0 1 713.5 170)" font-size="13.5">1-Hydroxypropyl-</text>
<text transform="matrix(0.89 0 0 1 713.5 180.5)" font-size="13.5">ThPP</text>
<text transform="matrix(0.89 0 0 1 701.25 211.75)" font-size="13.5">Lipoamide-E</text>
<text transform="matrix(0.89 0 0 1 812.5 252.5)" font-size="13.5">S-Propanoyl-</text>
<text transform="matrix(0.89 0 0 1 812.5 263)" font-size="13.5">dihydrolipoamide-E</text>
<text transform="matrix(0.89 0 0 1 703 265)" font-size="13.5">Dihydro-</text>
<text transform="matrix(0.89 0 0 1 703 275.5)" font-size="13.5">lipoamide-E</text>
<text transform="matrix(0.89 0 0 1 1037.25 178.5)" font-size="13.5">Propionyl-</text>
<text transform="matrix(0.89 0 0 1 1037.25 189)" font-size="13.5">adenylate</text>
<text transform="matrix(0.89 0 0 1 825 352.5)" font-size="13.5">Propanoyl-</text>
<text transform="matrix(0.89 0 0 1 825 363)" font-size="13.5">CoA</text>
<text transform="matrix(0.89 0 0 1 728.75 436.25)" font-size="13.5">(S)-2-Methyl-</text>
<text transform="matrix(0.89 0 0 1 728.75 446.75)" font-size="13.5">malonyl-CoA</text>
<text transform="matrix(0.89 0 0 1 861.25 439.5)" font-size="13.5">Methylmalonate</text>
<text transform="matrix(0.89 0 0 1 956.75 443.5)" font-size="13.5">(S)-Methyl-</text>
<text transform="matrix(0.89 0 0 1 956.75 454)" font-size="13.5">malonate</text>
<text transform="matrix(0.89 0 0 1 956.75 464.5)" font-size="13.5">semialdehyde</text>
<text transform="matrix(0.89 0 0 1 733 535.5)" font-size="13.5">(R)-Methyl-</text>
<text transform="matrix(0.89 0 0 1 733 546)" font-size="13.5">malonyl-CoA</text>
<text transform="matrix(0.89 0 0 1 733 612)" font-size="13.5">Succinyl-CoA</text>
<text transform="matrix(0.89 0 0 1 900.75 607.75)" font-size="13.5">Succinate</text>
<text transform="matrix(0.89 0 0 1 1019 640.25)" font-size="13.5">Methylisocitrate</text>
<text transform="matrix(0.89 0 0 1 1048.5 428.75)" font-size="13.5">2-Methylcitrate</text>
<text transform="matrix(0.89 0 0 1 1133 351.25)" font-size="13.5">Oxaloacetate</text>
<text transform="matrix(0.89 0 0 1 975 531.25)" font-size="13.5">2-Methyl-</text>
<text transform="matrix(0.89 0 0 1 975 541.75)" font-size="13.5">cis-aconitate</text>
<text transform="matrix(0.89 0 0 1 1136.75 533)" font-size="13.5">2-Methyl-</text>
<text transform="matrix(0.89 0 0 1 1136.75 543.5)" font-size="13.5">trans-aconitate</text>
<text transform="matrix(0.89 0 0 1 16 707.5)" font-size="13.5">00640 8/13/25</text>
<text transform="matrix(0.89 0 0 1 16 718.75)" font-size="13.5">(c) Kanehisa Laboratories</text>
</svg>
</body></html>
